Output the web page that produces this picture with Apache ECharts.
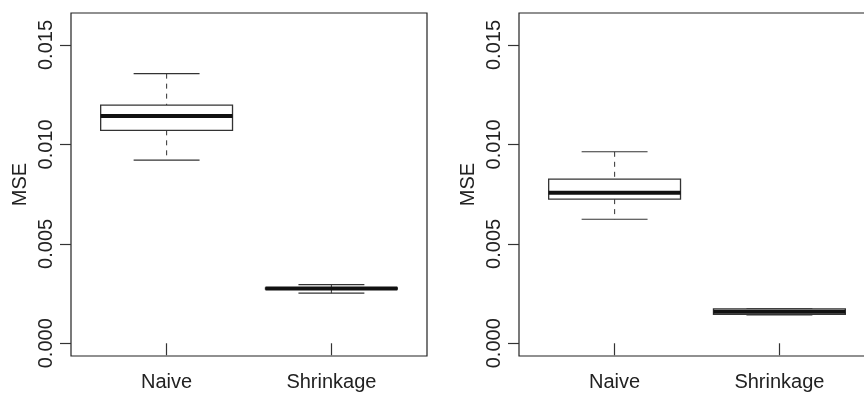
<!DOCTYPE html>
<html>
<head>
    <meta charset="utf-8">
    <title>MSE boxplots</title>
    <script src="https://cdn.jsdelivr.net/npm/echarts@6/dist/echarts.min.js"></script>
    <style>
        *{ margin: 0; padding: 0; }
        html,body{ width: 100%; height: 100%; overflow: hidden; background: #fff; }
        /* the right panel runs past the picture edge, as in the original */
        #main{ width: 880px; height: 394px; }
    </style>
</head>
<body>
<div id="main"></div>
<script>
    // group names and their positions on the x scale (R style: 1, 2)
    const categories = ['Naive', 'Shrinkage'];
    const catPos = [1, 2];
    const yTicks = [0, 0.005, 0.010, 0.015];

    // [lower whisker, Q1, median, Q3, upper whisker]
    const leftNaive = [0.00921, 0.01071, 0.01143, 0.01198, 0.01356];
    const leftShrink = [0.00252, 0.00272, 0.00275, 0.00279, 0.00295];
    const rightNaive = [0.00624, 0.00725, 0.00757, 0.00826, 0.00963];
    const rightShrink = [0.00143, 0.00145, 0.00159, 0.00173, 0.00175];

    const font = 'Liberation Sans';
    const ink = '#222';

    function toRows(a, b) {
        return [[catPos[0]].concat(a), [catPos[1]].concat(b)];
    }

    function renderBox(params, api) {
        const x = api.value(0);
        const lo = api.coord([x, api.value(1)]);
        const q1 = api.coord([x, api.value(2)]);
        const md = api.coord([x, api.value(3)]);
        const q3 = api.coord([x, api.value(4)]);
        const hi = api.coord([x, api.value(5)]);
        const bw = api.size([0.8, 0])[0];
        const sw = bw / 2;
        const cx = lo[0];
        const line = (x1, y1, x2, y2, style) => ({
            type: 'line',
            shape: {x1: x1, y1: y1, x2: x2, y2: y2},
            style: style
        });
        const thin = {stroke: '#333', lineWidth: 1.1};
        const dash = {stroke: '#444', lineWidth: 1.1, lineDash: [5, 5]};
        return {
            type: 'group',
            children: [
                line(cx, hi[1], cx, q3[1], dash),
                line(cx, q1[1], cx, lo[1], dash),
                line(cx - sw / 2, hi[1], cx + sw / 2, hi[1], thin),
                line(cx - sw / 2, lo[1], cx + sw / 2, lo[1], thin),
                {
                    type: 'rect',
                    shape: {x: cx - bw / 2, y: q3[1], width: bw, height: q1[1] - q3[1]},
                    style: {fill: '#fff', stroke: '#333', lineWidth: 1.3}
                },
                line(cx - bw / 2, md[1], cx + bw / 2, md[1], {stroke: '#111', lineWidth: 4})
            ]
        };
    }

    function xAxis(i) {
        return {
            type: 'value', gridIndex: i, min: 0.42, max: 2.58,
            splitLine: {show: false},
            axisLine: {show: false},
            axisTick: {show: true, customValues: catPos, length: 12, inside: false,
                lineStyle: {color: '#333', width: 1.2}},
            axisLabel: {customValues: catPos, margin: 16, fontFamily: font, fontSize: 20, color: ink,
                formatter: v => categories[catPos.indexOf(v)]}
        };
    }

    function yAxis(i) {
        return {
            type: 'value', gridIndex: i, min: -0.00064, max: 0.01661,
            name: 'MSE', nameLocation: 'middle', nameGap: 41, nameRotate: 90,
            nameTextStyle: {fontFamily: font, fontSize: 20, color: ink},
            splitLine: {show: false},
            axisLine: {show: false},
            axisTick: {show: true, customValues: yTicks, length: 11,
                lineStyle: {color: '#333', width: 1.2}},
            axisLabel: {customValues: yTicks, rotate: 90, margin: 15, fontFamily: font, fontSize: 20,
                color: ink, formatter: v => v.toFixed(3)}
        };
    }

    const chart = echarts.init(document.getElementById('main'));
    chart.setOption({
        animation: false,
        grid: [
            {left: 71, top: 13, width: 356, height: 343, show: true, borderColor: '#222', borderWidth: 1.2},
            {left: 519, top: 13, width: 356, height: 343, show: true, borderColor: '#222', borderWidth: 1.2}
        ],
        xAxis: [xAxis(0), xAxis(1)],
        yAxis: [yAxis(0), yAxis(1)],
        series: [
            {type: 'custom', xAxisIndex: 0, yAxisIndex: 0, renderItem: renderBox,
                data: toRows(leftNaive, leftShrink), clip: false},
            {type: 'custom', xAxisIndex: 1, yAxisIndex: 1, renderItem: renderBox,
                data: toRows(rightNaive, rightShrink), clip: false}
        ]
    });
</script>
</body>
</html>
